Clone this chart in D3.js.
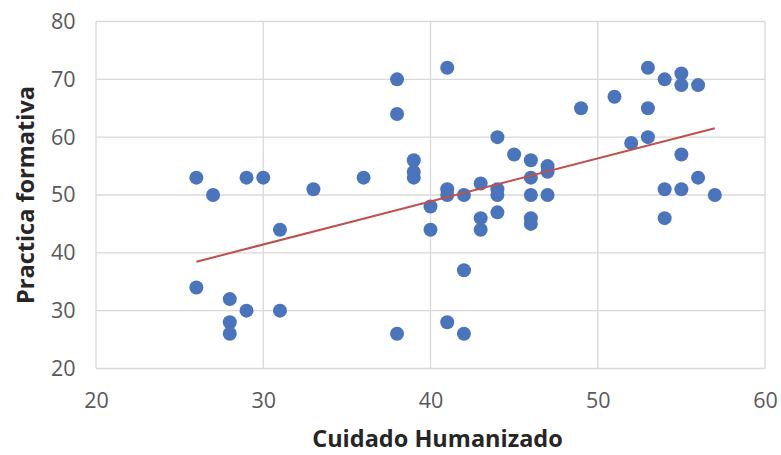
<!DOCTYPE html>
<html>
<head>
<meta charset="utf-8">
<script src="https://cdn.jsdelivr.net/npm/d3@7"></script>
<style>
  html, body { margin: 0; padding: 0; background: #fff; }
  svg { display: block; }
</style>
</head>
<body>
<svg id="chart" width="781" height="455"></svg>
<script>
// Cuidado Humanizado (x) vs Practica formativa (y)
const cuidado = [26, 27, 29, 30, 33, 31, 36, 26, 28, 28, 28, 29, 31, 38, 38, 38, 41, 39, 39, 39,
                 40, 40, 41, 41, 42, 42, 41, 42, 43, 43, 43, 44, 44, 44, 44, 45, 46, 46, 46, 46,
                 46, 47, 47, 47, 49, 51, 52, 53, 53, 53, 54, 55, 55, 56, 55, 56, 54, 55, 57, 54];
const practica = [53, 50, 53, 53, 51, 44, 53, 34, 32, 28, 26, 30, 30, 26, 70, 64, 72, 56, 54, 53,
                  48, 44, 51, 50, 50, 37, 28, 26, 52, 46, 44, 60, 51, 50, 47, 57, 56, 53, 50, 46,
                  45, 55, 54, 50, 65, 67, 59, 60, 65, 72, 70, 71, 69, 69, 57, 53, 51, 51, 50, 46];

const xTicks = [20, 30, 40, 50, 60];
const yTicks = [20, 30, 40, 50, 60, 70, 80];

const svg = d3.select("#chart");
const plot = { left: 96, right: 765, top: 21.5, bottom: 368.5 };

const x = d3.scaleLinear().domain([20, 60]).range([plot.left, plot.right]);
const y = d3.scaleLinear().domain([20, 80]).range([plot.bottom, plot.top]);

const font = "'Open Sans', 'Noto Sans', sans-serif";

// gridlines
svg.append("g")
  .selectAll("line")
  .data(xTicks)
  .join("line")
  .attr("x1", d => x(d)).attr("x2", d => x(d))
  .attr("y1", plot.top).attr("y2", plot.bottom)
  .attr("stroke", "#d9d9d9").attr("stroke-width", 1.3);

svg.append("g")
  .selectAll("line")
  .data(yTicks)
  .join("line")
  .attr("x1", plot.left).attr("x2", plot.right)
  .attr("y1", d => y(d)).attr("y2", d => y(d))
  .attr("stroke", "#d9d9d9").attr("stroke-width", 1.3);

// axes (labels only)
const xAxis = svg.append("g")
  .attr("transform", `translate(0,${plot.bottom})`)
  .call(d3.axisBottom(x).tickValues(xTicks).tickSize(0).tickPadding(24.5));
xAxis.select(".domain").remove();
xAxis.selectAll("text")
  .attr("fill", "#595959").style("font-family", font).style("font-size", "21.5px");

const yAxis = svg.append("g")
  .attr("transform", `translate(${plot.left},0)`)
  .call(d3.axisLeft(y).tickValues(yTicks).tickSize(0).tickPadding(20.5));
yAxis.select(".domain").remove();
yAxis.selectAll("text")
  .attr("fill", "#595959").style("font-family", font).style("font-size", "21.5px");

// points
svg.append("g")
  .selectAll("circle")
  .data(cuidado.map((c, i) => [c, practica[i]]))
  .join("circle")
  .attr("cx", d => x(d[0]))
  .attr("cy", d => y(d[1]))
  .attr("r", 7)
  .attr("fill", "#4a74bb");

// least-squares trend line across the range of the data
const n = cuidado.length;
const mx = d3.mean(cuidado), my = d3.mean(practica);
let sxy = 0, sxx = 0;
for (let i = 0; i < n; i++) {
  sxy += (cuidado[i] - mx) * (practica[i] - my);
  sxx += (cuidado[i] - mx) ** 2;
}
const slope = sxy / sxx, intercept = my - slope * mx;
const [xmin, xmax] = d3.extent(cuidado);
svg.append("line")
  .attr("x1", x(xmin)).attr("y1", y(intercept + slope * xmin))
  .attr("x2", x(xmax)).attr("y2", y(intercept + slope * xmax))
  .attr("stroke", "#c0504d").attr("stroke-width", 2);

// axis titles
svg.append("text")
  .attr("x", 437.5).attr("y", 447)
  .attr("text-anchor", "middle")
  .attr("fill", "#262626")
  .style("font-family", font).style("font-size", "23.5px").style("font-weight", "bold")
  .text("Cuidado Humanizado");

svg.append("text")
  .attr("transform", "translate(34,195) rotate(-90)")
  .attr("text-anchor", "middle")
  .attr("fill", "#262626")
  .style("font-family", font).style("font-size", "23.5px").style("font-weight", "bold")
  .text("Practica formativa");
</script>
</body>
</html>
